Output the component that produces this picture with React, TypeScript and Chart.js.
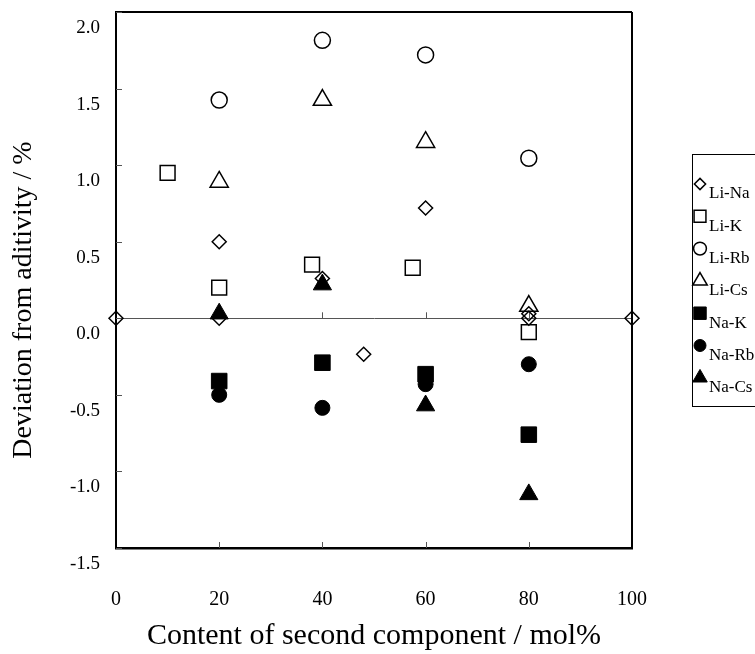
import React, { useEffect, useRef } from 'react';
import { Chart, registerables } from 'chart.js';
import { drawPoint } from 'chart.js/helpers';

Chart.register(...registerables);

const FONT = "'Liberation Serif', 'Times New Roman', serif";

// ---- data ----
const seriesNames = ['Li-Na', 'Li-K', 'Li-Rb', 'Li-Cs', 'Na-K', 'Na-Rb', 'Na-Cs'];

const liNaX = [0, 20, 20, 40, 48, 60, 80, 80, 100];
const liNaY = [0, 0.5, 0.0, 0.26, -0.235, 0.72, 0.03, 0.0, 0];

const liKX = [10, 20, 38, 57.5, 80];
const liKY = [0.95, 0.2, 0.35, 0.33, -0.09];

const liRbX = [20, 40, 60, 80];
const liRbY = [1.425, 1.815, 1.72, 1.045];

const liCsX = [20, 40, 60, 80];
const liCsY = [0.89, 1.425, 1.15, 0.08];

const naKX = [20, 40, 60, 80];
const naKY = [-0.41, -0.29, -0.365, -0.76];

const naRbX = [20, 40, 60, 80];
const naRbY = [-0.5, -0.585, -0.43, -0.3];

const naCsX = [20, 40, 60, 80];
const naCsY = [0.03, 0.22, -0.57, -1.15];

const xTicks = [0, 20, 40, 60, 80, 100];
const yTicks = [-1.5, -1.0, -0.5, 0, 0.5, 1.0, 1.5, 2.0];

const xTitle = 'Content of second component / mol%';
const yTitle = 'Deviation from aditivity / %';

// ---- styles ----
const pointStyles = ['rectRot', 'rect', 'circle', 'triangle', 'rect', 'circle', 'triangle'];
const pointRadii = [7, 10.5, 8, 10.5, 11, 7.5, 10.5];
const filled = [false, false, false, false, true, true, true];

const framePlugin = {
  id: 'frame',
  beforeDatasetsDraw(chart: any) {
    const { ctx, chartArea, scales } = chart;
    const { left, right, top, bottom } = chartArea;
    ctx.save();
    ctx.strokeStyle = '#000';
    ctx.lineWidth = 2;
    ctx.beginPath();
    ctx.moveTo(left, top);
    ctx.lineTo(right, top);
    ctx.moveTo(right, top);
    ctx.lineTo(right, bottom);
    ctx.stroke();
    // inner tick marks
    ctx.strokeStyle = '#555';
    ctx.lineWidth = 1;
    ctx.beginPath();
    const y0 = scales.y.getPixelForValue(0);
    scales.y.ticks.forEach((t: any) => {
      const py = Math.round(scales.y.getPixelForValue(t.value)) + 0.5;
      ctx.moveTo(left, py);
      ctx.lineTo(left + 6, py);
    });
    scales.x.ticks.forEach((t: any) => {
      if (t.value === xTicks[0] || t.value === xTicks[xTicks.length - 1]) return;
      const px = Math.round(scales.x.getPixelForValue(t.value)) + 0.5;
      ctx.moveTo(px, bottom);
      ctx.lineTo(px, bottom - 6);
      ctx.moveTo(px, y0);
      ctx.lineTo(px, y0 - 6);
    });
    ctx.stroke();
    ctx.restore();
  },
};

const legendPlugin = {
  id: 'boxLegend',
  afterDraw(chart: any) {
    const { ctx, chartArea } = chart;
    const left = chartArea.right + 60;
    const top = chartArea.top + 142;
    const h = 252;
    ctx.save();
    ctx.strokeStyle = '#000';
    ctx.lineWidth = 1;
    ctx.strokeRect(Math.round(left) + 0.5, Math.round(top) + 0.5, 140, h);
    chart.data.datasets.forEach((ds: any, i: number) => {
      const y = top + 30 + i * 32.3;
      const x = left + 8;
      ctx.fillStyle = ds.pointBackgroundColor;
      ctx.strokeStyle = '#000';
      ctx.lineWidth = ds.pointBorderWidth;
      drawPoint(ctx, { pointStyle: ds.pointStyle, radius: ds.pointRadius * 0.8, rotation: 0, borderWidth: ds.pointBorderWidth } as any, x, y);
      ctx.fillStyle = '#000';
      ctx.font = `17px ${FONT}`;
      ctx.textBaseline = 'middle';
      ctx.textAlign = 'left';
      ctx.fillText(ds.label, x + 9, y + 10);
    });
    ctx.restore();
  },
};

const yTitlePlugin = {
  id: 'yTitle',
  afterDraw(chart: any) {
    const { ctx, chartArea } = chart;
    ctx.save();
    ctx.translate(24, (chartArea.top + chartArea.bottom) / 2 + 20);
    ctx.rotate(-Math.PI / 2);
    ctx.font = `28px ${FONT}`;
    ctx.fillStyle = '#000';
    ctx.textAlign = 'center';
    ctx.textBaseline = 'middle';
    ctx.fillText(yTitle, 0, 0);
    ctx.restore();
  },
};

export default function App() {
  const ref = useRef<HTMLCanvasElement>(null);
  useEffect(() => {
    document.body.style.margin = '0';
    const canvas = ref.current;
    if (!canvas) return;
    const xs = [liNaX, liKX, liRbX, liCsX, naKX, naRbX, naCsX];
    const ys = [liNaY, liKY, liRbY, liCsY, naKY, naRbY, naCsY];
    const datasets = seriesNames.map((name, i) => ({
      label: name,
      data: xs[i].map((x, j) => ({ x, y: ys[i][j] })),
      pointStyle: pointStyles[i],
      pointRadius: pointRadii[i],
      pointHoverRadius: pointRadii[i],
      pointBackgroundColor: filled[i] ? '#000' : 'rgba(0,0,0,0)',
      pointBorderColor: '#000',
      pointBorderWidth: filled[i] ? 1 : 1.5,
      showLine: false,
      clip: false as any,
      order: seriesNames.length - i,
    }));
    const chart = new Chart(canvas, {
      type: 'scatter',
      data: { datasets } as any,
      options: {
        animation: false,
        responsive: false,
        layout: { padding: { top: 11, right: 123, bottom: 0, left: 0 } },
        plugins: { legend: { display: false }, tooltip: { enabled: false } },
        scales: {
          x: {
            type: 'linear',
            min: xTicks[0],
            max: xTicks[xTicks.length - 1],
            afterBuildTicks: (s: any) => { s.ticks = xTicks.map((v) => ({ value: v })); },
            afterFit: (s: any) => { s.height = 106; s.paddingLeft = 0; s.paddingRight = 0; },
            grid: { display: false, drawTicks: false },
            border: { display: true, color: '#000', width: 2.5 },
            ticks: {
              autoSkip: false,
              maxRotation: 0,
              padding: 40,
              color: '#000',
              font: { family: FONT, size: 20 },
            },
            title: {
              display: true,
              text: xTitle,
              color: '#000',
              font: { family: FONT, size: 30 },
              padding: { top: 0, bottom: 0 },
            },
          },
          y: {
            type: 'linear',
            min: yTicks[0],
            max: yTicks[yTicks.length - 1],
            afterBuildTicks: (s: any) => { s.ticks = yTicks.map((v) => ({ value: v })); },
            afterFit: (s: any) => { s.width = 116; s.paddingTop = 0; s.paddingBottom = 0; },
            grid: {
              drawTicks: false,
              lineWidth: 1,
              color: (c: any) => (c.tick && c.tick.value === 0 ? '#555' : 'rgba(0,0,0,0)'),
            },
            border: { display: true, color: '#000', width: 2 },
            ticks: {
              autoSkip: false,
              padding: 16,
              labelOffset: 16,
              color: '#000',
              font: { family: FONT, size: 19 },
              callback: (v: any) => Number(v).toFixed(1),
            },
          },
        },
      } as any,
      plugins: [framePlugin, legendPlugin, yTitlePlugin],
    });
    return () => chart.destroy();
  }, []);
  return <canvas ref={ref} width={755} height={654} style={{ display: 'block' }} />;
}
